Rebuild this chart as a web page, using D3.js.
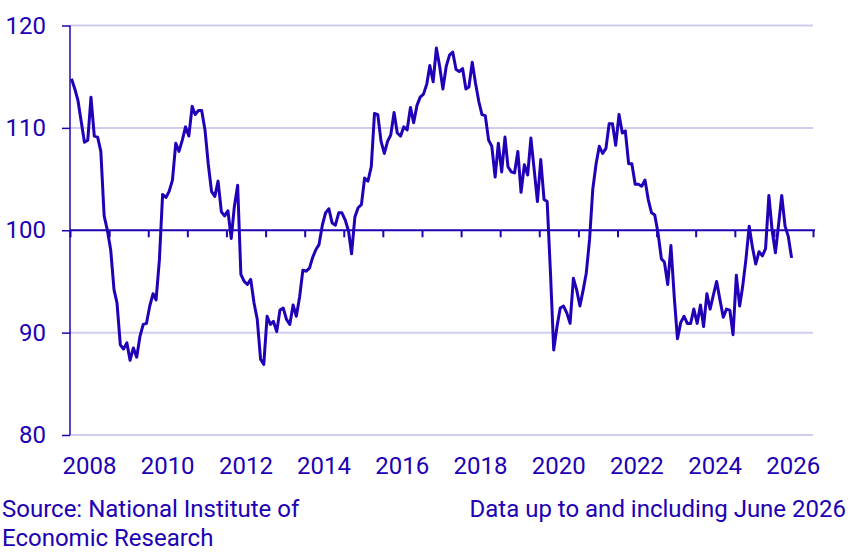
<!DOCTYPE html>
<html>
<head>
<meta charset="utf-8">
<script src="https://cdn.jsdelivr.net/npm/d3@7"></script>
<style>
  body { margin: 0; background: #fff; }
  text { font-family: Roboto, "Open Sans", sans-serif; fill: #2000b4; }
</style>
</head>
<body>
<div id="chart"></div>
<script>
//-----------------------------DATA-----------------------------//
const startYear = 2008;
const yTicks = [80, 90, 100, 110, 120];
const yearLabels = [2008, 2010, 2012, 2014, 2016, 2018, 2020, 2022, 2024, 2026];
const yearTicks = d3.range(2008, 2028);
// monthly values, Jan 2008 .. Jun 2026
const indicator = [
  114.8, 113.8, 112.7, 110.6, 108.6, 108.8, 113.0, 109.2, 109.1, 107.7, 101.4, 100.0,
  98.1, 94.2, 92.9, 88.8, 88.4, 89.0, 87.3, 88.5, 87.6, 89.6, 90.8, 90.9,
  92.6, 93.8, 93.2, 97.1, 103.5, 103.2, 103.8, 104.9, 108.5, 107.7, 108.8, 110.1,
  109.2, 112.1, 111.3, 111.7, 111.7, 109.8, 106.5, 103.8, 103.3, 104.8, 101.8, 101.4,
  101.9, 99.2, 102.3, 104.4, 95.7, 95.0, 94.7, 95.2, 92.9, 91.3, 87.4, 86.9,
  91.6, 90.8, 91.1, 90.1, 92.2, 92.4, 91.3, 90.8, 92.7, 91.6, 93.5, 96.1,
  96.0, 96.3, 97.3, 98.1, 98.6, 100.5, 101.7, 102.1, 100.7, 100.5, 101.7, 101.7,
  101.0, 99.9, 97.7, 101.3, 102.2, 102.5, 105.1, 104.8, 106.2, 111.4, 111.3, 108.7,
  107.5, 108.7, 109.3, 111.5, 109.5, 109.2, 110.1, 109.8, 112.0, 110.5, 112.2, 113.0,
  113.3, 114.3, 116.1, 114.5, 117.8, 116.0, 113.8, 116.0, 117.1, 117.4, 115.7, 115.5,
  115.8, 113.8, 114.0, 116.4, 114.4, 112.6, 111.3, 111.2, 108.8, 108.2, 105.2, 108.5,
  105.7, 109.1, 106.2, 105.7, 105.6, 107.7, 103.7, 106.4, 105.4, 109.0, 105.9, 102.8,
  106.9, 103.0, 102.8, 95.8, 88.3, 90.6, 92.4, 92.6, 91.9, 90.9, 95.3, 94.2,
  92.6, 94.2, 95.8, 99.1, 104.0, 106.5, 108.2, 107.5, 108.0, 110.4, 110.4, 108.3,
  111.3, 109.5, 109.7, 106.5, 106.5, 104.5, 104.5, 104.3, 104.9, 103.0, 101.7, 101.5,
  99.7, 97.2, 96.9, 94.7, 98.5, 93.5, 89.4, 91.0, 91.6, 90.9, 90.9, 92.3,
  90.9, 92.7, 90.6, 93.8, 92.3, 93.7, 95.0, 93.2, 91.5, 92.3, 92.2, 89.8,
  95.6, 92.6, 94.5, 97.2, 100.4, 98.3, 96.7, 97.9, 97.5, 98.2, 103.4, 100.0,
  97.8, 100.7, 103.4, 100.4, 99.4, 97.3
];
const sourceLines = ["Source: National Institute of", "Economic Research"];
const noteText = "Data up to and including June 2026";

//-----------------------------SVG------------------------------//
const width = 851;
const height = 556;
const margin = { top: 25.5, right: 38, bottom: 121, left: 70 };
const blue = "#2000b4";
const fontSize = "24px";

const svg = d3.select("#chart").append("svg")
    .attr("width", width)
    .attr("height", height);

const series = indicator.map(function(v, i) {
    return { date: new Date(startYear, i, 15), value: v };
});

//----------------------------SCALES----------------------------//
const xScale = d3.scaleTime()
    .domain([new Date(2008, 0, 1), new Date(2027, 0, 1)])
    .range([margin.left, width - margin.right]);
const yScale = d3.scaleLinear()
    .domain([80, 120])
    .range([height - margin.bottom, margin.top]);

//----------------------------GRID------------------------------//
svg.append("g")
    .selectAll("line")
    .data(yTicks.filter(function(d) { return d !== 100; }))
    .enter()
    .append("line")
    .attr("x1", margin.left)
    .attr("x2", width - margin.right)
    .attr("y1", function(d) { return yScale(d); })
    .attr("y2", function(d) { return yScale(d); })
    .style("stroke", "#cdcdee")
    .style("stroke-width", 2);

//-----------------------------AXES-----------------------------//
const yaxis = d3.axisLeft(yScale)
    .tickValues(yTicks)
    .tickSize(8)
    .tickPadding(16);

const gy = svg.append("g")
    .attr("transform", "translate(" + margin.left + ",0)")
    .call(yaxis);
gy.select(".domain").attr("d", "M0," + yScale(80) + "V" + yScale(120)).style("stroke", blue).style("stroke-width", 1.5);
gy.selectAll(".tick line").style("stroke", blue).style("stroke-width", 1.5);
gy.selectAll(".tick text").style("font-size", fontSize).style("fill", blue).attr("font-family", null);

// year ticks sit on the 100 line
const xaxis = d3.axisBottom(xScale)
    .tickValues(yearTicks.map(function(y) { return new Date(y, 0, 1); }))
    .tickSize(7)
    .tickFormat("");

const gx = svg.append("g")
    .attr("transform", "translate(0," + yScale(100) + ")")
    .call(xaxis);
gx.select(".domain").attr("d", "M" + margin.left + ",0H" + (width - margin.right + 2)).style("stroke", blue).style("stroke-width", 2);
gx.selectAll(".tick line").style("stroke", blue).style("stroke-width", 2);

svg.append("g")
    .selectAll("text")
    .data(yearLabels)
    .enter()
    .append("text")
    .attr("x", function(d) { return xScale(new Date(d, 6, 1)); })
    .attr("y", 474)
    .style("text-anchor", "middle")
    .style("font-size", fontSize)
    .text(function(d) { return d; });

//----------------------------LINES-----------------------------//
const line = d3.line()
    .curve(d3.curveLinear)
    .x(function(d) { return xScale(d.date); })
    .y(function(d) { return yScale(d.value); });

svg.append("path")
    .datum(series)
    .attr("d", line)
    .style("fill", "none")
    .style("stroke", "#2200b8")
    .style("stroke-width", 3)
    .style("stroke-linejoin", "round");

//----------------------------NOTES-----------------------------//
svg.append("g")
    .selectAll("text")
    .data(sourceLines)
    .enter()
    .append("text")
    .attr("x", 2)
    .attr("y", function(d, i) { return 517 + i * 29; })
    .style("font-size", fontSize)
    .text(function(d) { return d; });

svg.append("text")
    .attr("x", 846)
    .attr("y", 517)
    .style("text-anchor", "end")
    .style("font-size", fontSize)
    .text(noteText);
</script>
</body>
</html>
